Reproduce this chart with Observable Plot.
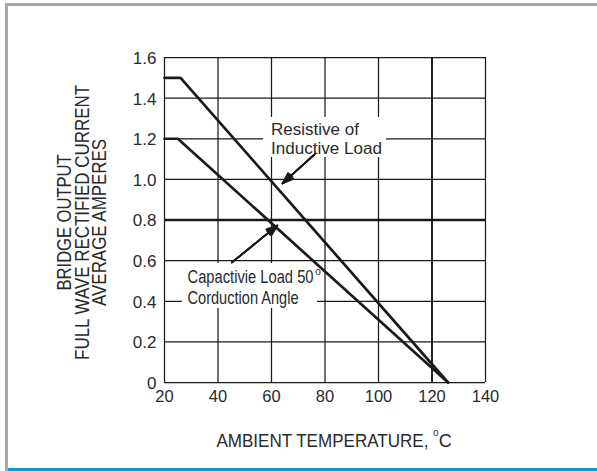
<!DOCTYPE html>
<html>
<head>
<meta charset="utf-8">
<script src="https://cdn.jsdelivr.net/npm/d3@7"></script>
<script src="https://cdn.jsdelivr.net/npm/@observablehq/plot@0.6"></script>
<style>
  html, body { margin: 0; padding: 0; background: #fff; }
  #page { position: relative; width: 597px; height: 471px; overflow: hidden; background: #fff; }
  #page .bl { position: absolute; left: 5px; top: 3px; width: 2.5px; height: 468px; background: #a8a8a8; }
  #page .bt { position: absolute; left: 5px; top: 3px; width: 592px; height: 2.5px; background: #a8a8a8; }
  #page .bb { position: absolute; left: 8px; top: 468px; width: 589px; height: 3px; background: #0a9ad8; }
  #chart { position: absolute; left: 0; top: 0; }
</style>
</head>
<body>
<div id="page"><div class="bl"></div><div class="bt"></div><div class="bb"></div><div id="chart"></div></div>
<script>
// ---- data ----
const xTicks = [20, 40, 60, 80, 100, 120, 140];
const yTicks = [0, 0.2, 0.4, 0.6, 0.8, 1.0, 1.2, 1.4, 1.6];
const tempResistive = [20, 26, 126];
const ampResistive = [1.5, 1.5, 0];
const tempCapacitive = [20, 25, 126];
const ampCapacitive = [1.2, 1.2, 0];
const labelResistive = ["Resistive of", "Inductive Load"];
const labelCapacitive = ["Capactivie Load 50", "Corduction Angle"];
const xTitle = "AMBIENT TEMPERATURE,";
const xTitleUnit = "C";
const degreeMark = "o";
const yTitle = ["BRIDGE OUTPUT", "FULL WAVE RECTIFIED CURRENT", "AVERAGE AMPERES"];

const resistive = tempResistive.map((t, i) => ({t, a: ampResistive[i]}));
const capacitive = tempCapacitive.map((t, i) => ({t, a: ampCapacitive[i]}));

const ink = "#1a1a1a";
const textInk = "#2a2a2a";
const sans = "'Liberation Sans', Arial, sans-serif";

// annotation geometry (data units)
const boxes = [
  {x1: 57.0, x2: 103.0, y1: 1.108, y2: 1.305},
  {x1: 26.7, x2: 77.2, y1: 0.364, y2: 0.586}
];
const arrows = [
  {x1: 76.1, y1: 1.123, x2: 64.1, y2: 0.98},
  {x1: 45.2, y1: 0.591, x2: 62.2, y2: 0.773}
];
// text widths (px) to mimic the condensed typeface
const textWidths = new Map([
  ["Resistive of", 88], ["Inductive Load", 111],
  ["Capactivie Load 50", 126], ["Corduction Angle", 111],
  ["AMBIENT TEMPERATURE,", 212],
  ["BRIDGE OUTPUT", 136], ["FULL WAVE RECTIFIED CURRENT", 275], ["AVERAGE AMPERES", 167]
]);

const arrowHeads = [40, 30, 20, 12, 6].map(a =>
  Plot.arrow(arrows, {x1: "x1", y1: "y1", x2: "x2", y2: "y2", stroke: ink, strokeWidth: 1.6, headAngle: a, headLength: 11})
);

const label = (txt, x, y, size, extra = {}) =>
  Plot.text([txt], {x, y, text: d => d, textAnchor: "start", fontSize: size, fill: textInk, fontFamily: sans, ...extra});

const chart = Plot.plot({
  width: 597,
  height: 471,
  marginLeft: 164,
  marginRight: 112,
  marginTop: 57,
  marginBottom: 89,
  style: {fontFamily: sans, background: "transparent", color: textInk},
  x: {domain: [20, 140], axis: null},
  y: {domain: [0, 1.6], axis: null},
  marks: [
    Plot.ruleX(xTicks, {stroke: ink, strokeWidth: d => d === 120 ? 1.9 : 1.25}),
    Plot.ruleY(yTicks, {stroke: ink, strokeWidth: d => d === 0.8 ? 2.3 : 1.25}),
    // tick labels
    Plot.text(xTicks, {x: d => d, frameAnchor: "bottom", lineAnchor: "top", dy: 8, text: d => String(d),
      fontSize: 16.5, fill: textInk, fontFamily: sans}),
    Plot.text(yTicks, {y: d => d, frameAnchor: "left", textAnchor: "end", dx: -8, dy: 1, text: d => d === 0 ? "0" : d.toFixed(1),
      fontSize: 17, fill: textInk, fontFamily: sans}),
    Plot.rect(boxes, {x1: "x1", x2: "x2", y1: "y1", y2: "y2", fill: "white"}),
    Plot.line(resistive, {x: "t", y: "a", stroke: ink, strokeWidth: 2.7, strokeLinejoin: "miter"}),
    Plot.line(capacitive, {x: "t", y: "a", stroke: ink, strokeWidth: 2.7, strokeLinejoin: "miter"}),
    Plot.arrow(arrows, {x1: "x1", y1: "y1", x2: "x2", y2: "y2", stroke: ink, strokeWidth: 1, headLength: 0}),
    ...arrowHeads,
    label(labelResistive[0], 59.8, 1.243, 17),
    label(labelResistive[1], 59.8, 1.154, 17),
    label(labelCapacitive[0], 28.6, 0.516, 18),
    label(labelCapacitive[1], 28.6, 0.417, 18),
    label(degreeMark, 76.4, 0.545, 10),
    label(xTitle, 39.4, -0.2867, 18),
    label(degreeMark, 120.4, -0.25, 10),
    label(xTitleUnit, 122.5, -0.2867, 18),
    Plot.text([yTitle[0]], {x: -17.2, y: 0.788, text: d => d, rotate: -90, fontSize: 20, fill: textInk, fontFamily: sans}),
    Plot.text([yTitle[1]], {x: -10.65, y: 0.788, text: d => d, rotate: -90, fontSize: 20, fill: textInk, fontFamily: sans}),
    Plot.text([yTitle[2]], {x: -4.11, y: 0.788, text: d => d, rotate: -90, fontSize: 20, fill: textInk, fontFamily: sans})
  ]
});
chart.querySelectorAll("text").forEach(t => {
  const w = textWidths.get(t.textContent);
  if (w) { t.setAttribute("textLength", w); t.setAttribute("lengthAdjust", "spacingAndGlyphs"); }
});
document.getElementById("chart").appendChild(chart);
</script>
</body>
</html>
